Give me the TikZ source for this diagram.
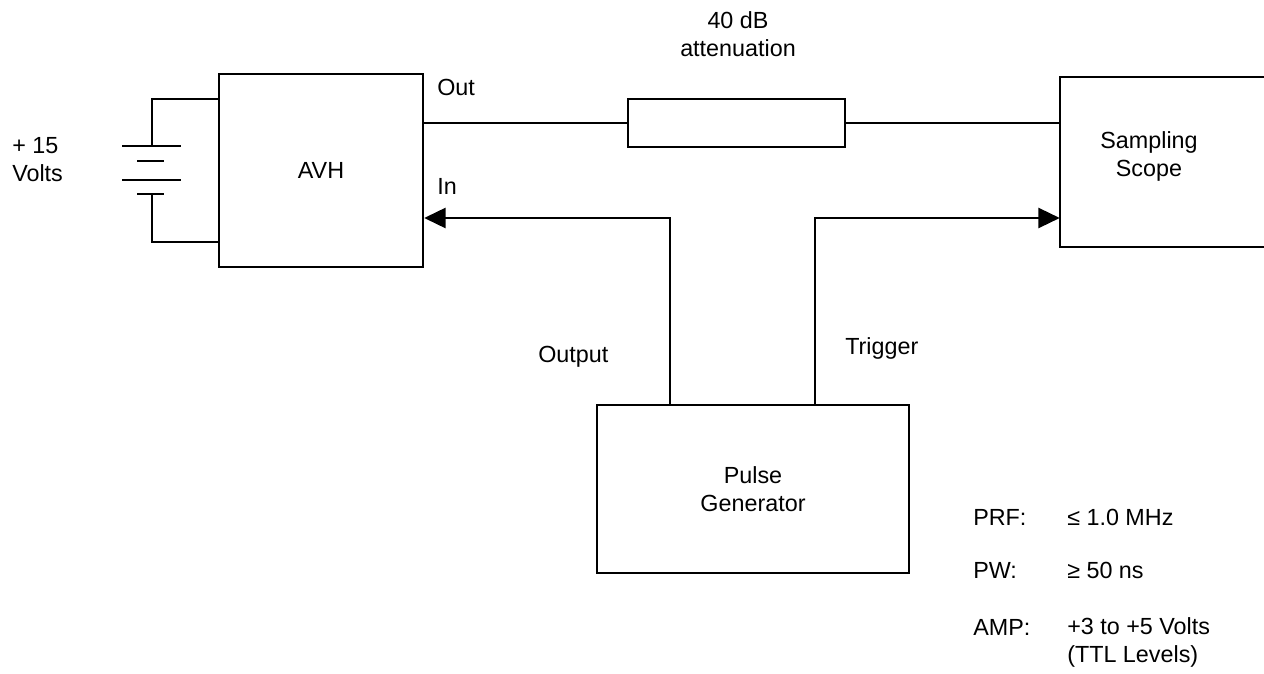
\documentclass[tikz,border=0pt]{standalone}
\usepackage{fontspec}
\setmainfont{Liberation Sans}
\usetikzlibrary{arrows.meta}
\tikzset{
  wire/.style={line width=1.8pt, line cap=rect},
  blk/.style={draw, line width=1.8pt, inner sep=0pt, align=center},
  txt/.style={inner sep=0pt, align=left, font=\fontsize{17.5}{21}\selectfont},
  ctxt/.style={inner sep=0pt, align=center, font=\fontsize{17.5}{21}\selectfont},
  arr/.style={wire, -{Triangle[length=16pt,width=15pt]}},
  every node/.style={font=\fontsize{17.5}{21}\selectfont}
}
\begin{document}
\begin{tikzpicture}[x=0.75pt,y=-0.75pt]
\useasboundingbox (0,0) rectangle (1264,674);
% blocks
\node[blk, minimum width=204*0.75pt, minimum height=193*0.75pt] (avh) at (321,170.5) {AVH};
\node[blk, minimum width=217*0.75pt, minimum height=48*0.75pt] (att) at (736.5,123) {};
\node[inner sep=0pt, minimum width=174*0.75pt, minimum height=170*0.75pt] (scope) at (1147,162) {};
\node[ctxt] (scopetext) at (1149,156) {Sampling\\Scope};
\node[blk, minimum width=312*0.75pt, minimum height=168*0.75pt] (pg) at (753,489) {Pulse\\Generator};
\coordinate (edgeR) at (1268,0);
\draw[wire] (scope.north west -| edgeR) -- (scope.north west) -- (scope.south west) -- (scope.south west -| edgeR);
% labels
\node[ctxt] (attlabel) at (738,34) {40 dB\\attenuation};
\node[txt, anchor=west] (outl) at (437,87) {Out};
\node[txt, anchor=west] (inl) at (437,186) {In};
\node[txt, anchor=west] (outputl) at (538,357) {Output};
\node[txt, anchor=west] (trigl) at (845,348) {Trigger};
\node[txt, anchor=west] (volts) at (12,159.5) {+ 15\\Volts};
\node[txt, anchor=west] (prf) at (973,517) {PRF:};
\node[txt, anchor=west] (prfv) at (1067,517) {≤ 1.0 MHz};
\node[txt, anchor=west] (pw) at (973,570) {PW:};
\node[txt, anchor=west] (pwv) at (1067,570) {≥ 50 ns};
\node[txt, anchor=west] (amp) at (973,627) {AMP:};
\node[txt, anchor=north west] (ampv) at (1067,617) {+3 to +5 Volts\\(TTL Levels)};
% signal path
\draw[wire] (avh.east |- att.west) -- (att.west);
\draw[wire] (att.east) -- (scope.west |- att.east);
\coordinate (oy) at (0,218);
\coordinate (ox) at (670,0);
\coordinate (tx) at (815,0);
\draw[arr] (pg.north -| ox) -- (ox |- oy) -- (avh.east |- oy);
\draw[arr] (pg.north -| tx) -- (tx |- oy) -- (scope.west |- oy);
% battery
\coordinate (bt) at (0,99);
\coordinate (bb) at (0,242);
\coordinate (p1) at (152,146);
\coordinate (p4) at (152,194);
\draw[wire] (avh.west |- bt) -| (p1);
\draw[wire] (avh.west |- bb) -| (p4);
\draw[wire] (123,146) -- (180,146);
\draw[wire] (138,161) -- (163,161);
\draw[wire] (123,180) -- (180,180);
\draw[wire] (138,194) -- (163,194);
\end{tikzpicture}
\end{document}
